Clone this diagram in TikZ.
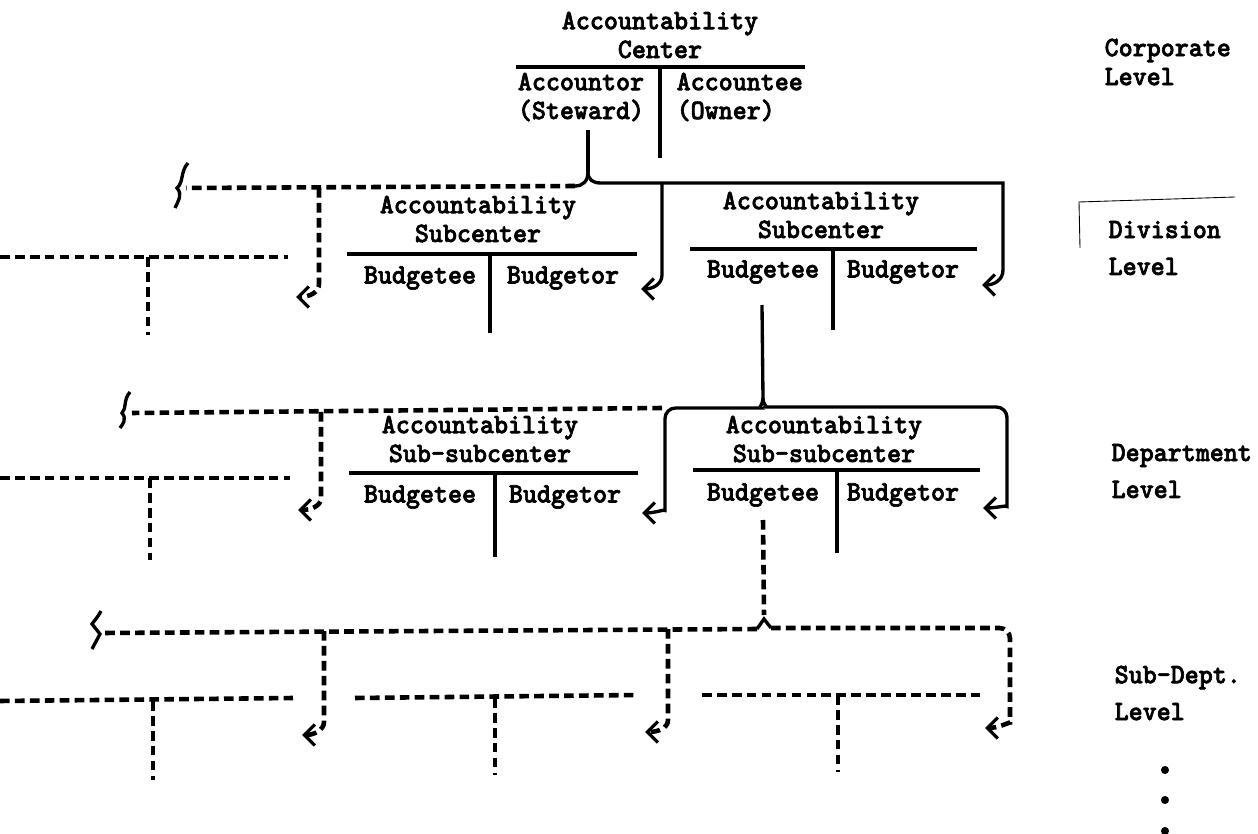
\documentclass[tikz,border=0pt]{standalone}
\usepackage{fontspec}
\newfontfamily\twfont{lmmonolt10-bold}[Extension=.otf,FakeStretch=0.95,FakeBold=2.2]
\usetikzlibrary{arrows.meta}

\begin{document}
\begin{tikzpicture}[x=0.02cm,y=-0.02cm,line width=1.9pt,
        >={Straight Barb[length=6pt,width=12pt,line width=1.9pt]},
        box node/.style={font=\twfont\fontsize{16}{16.4}\selectfont,align=center,inner sep=0pt},
        role node/.style={font=\twfont\fontsize{16}{16.4}\selectfont,inner sep=0pt},
        level node/.style={font=\twfont\fontsize{16}{21}\selectfont,align=left,anchor=west,inner sep=0pt},
        rule line/.style={line width=1.9pt},
        dash line/.style={line width=2.6pt,dash pattern=on 5.5pt off 3pt}]

      \useasboundingbox (0,0) rectangle (1258,834);

      \node[box node] (center) at (660,35) {Accountability\\Center};
      \node[box node] (steward) at (581,97) {Accountor\\(Steward)};
      \node[box node,align=left,anchor=west] (owner) at (675,97) {Accountee\\(Owner)};
      \draw[rule line] (516,67) -- (805,67);
      \draw[rule line] (660,67) -- (660,158);

      \node[box node] (sub1) at (478,219) {Accountability\\Subcenter};
      \node[role node] (sub1l) at (420,278) {Budgetee};
      \node[role node] (sub1r) at (563,278) {Budgetor};
      \draw[rule line] (347,254) -- (637,254);
      \draw[rule line] (490,254) -- (490,333);

      \node[box node] (sub2) at (821,215) {Accountability\\Subcenter};
      \node[role node] (sub2l) at (763,272) {Budgetee};
      \node[role node] (sub2r) at (903,272) {Budgetor};
      \draw[rule line] (690,249) -- (977,249);
      \draw[rule line] (833,249) -- (833,330);

      \node[box node] (dep1) at (480,439) {Accountability\\Sub-subcenter};
      \node[role node] (dep1l) at (420,497) {Budgetee};
      \node[role node] (dep1r) at (565,497) {Budgetor};
      \draw[rule line] (349,473) -- (638,473);
      \draw[rule line] (495,473) -- (495,557);

      \node[box node] (dep2) at (824,439) {Accountability\\Sub-subcenter};
      \node[role node] (dep2l) at (763,495) {Budgetee};
      \node[role node] (dep2r) at (903,495) {Budgetor};
      \draw[rule line] (693,470) -- (980,470);
      \draw[rule line] (837,470) -- (837,553);

      \node[level node,font=\twfont\fontsize{16}{16.5}\selectfont] (corp) at (1103,62) {Corporate\\Level};
      \node[level node] (div) at (1107,248) {Division\\Level};
      \node[level node] (dept) at (1110,471) {Department\\Level};
      \node[level node] (subdept) at (1113,693) {Sub-Dept.\\Level};
      \draw[line width=0.5pt] (1080,248) -- (1079,202) -- (1235,197);
      \foreach \y in {770,800,831}
        \fill (1165,\y) circle (2.3pt);

      \coordinate (j1) at (588,172);
      \coordinate (j2) at (763,398);
      \coordinate (j3) at (764,619);

      \draw (588,130) -- (j1);
      \draw[->] (j1) .. controls (588,180) and (593,183) .. (601,183) -| (1003,270)
        .. controls (1003,280) and (994,285) .. (982,285);
      \draw[->] (662,183) -- (662,275) .. controls (662,284) and (653,289) .. (641,289);
      \draw (j1) .. controls (588,181) and (583,186) .. (575,186);
      \draw[dash line] (575,186) -- (186,188);
      \draw (188,163) .. controls (180,172) and (184,182) .. (177,188)
        .. controls (183,195) and (178,201) .. (175,208);
      \draw[dash line,->] (319,188) -- (319,284) .. controls (319,292) and (310,297) .. (296,297);
      \draw[dash line] (0,257) -- (288,257);
      \draw[dash line] (148,257) -- (148,335);

      \draw (762,305) -- (j2);
      \draw[->,rounded corners=6pt] (j2) .. controls (763,405) and (758,408) .. (750,408) -- (665,408)
        -- (665,500) .. controls (665,509) and (655,513) .. (642,513);
      \draw[->,rounded corners=6pt] (j2) .. controls (763,405) and (768,407) .. (776,407) -| (1007,496)
        .. controls (1007,505) and (996,508) .. (983,508);
      \draw[dash line] (662,408) -- (132,413);
      \draw (130,392) .. controls (123,400) and (127,408) .. (122,413)
        .. controls (127,419) and (123,424) .. (120,428);
      \draw[dash line,->] (321,412) -- (321,498) .. controls (321,506) and (311,510) .. (298,510);
      \draw[dash line] (0,478) -- (290,478);
      \draw[dash line] (150,478) -- (150,560);

      \draw[dash line] (763,520) -- (764,615);
      \draw (757,629) -- (j3) -- (771,628);
      \draw[dash line,->,rounded corners=6pt] (771,628) -| (1010,712)
        .. controls (1010,722) and (998,728) .. (985,728);
      \draw[dash line] (757,629) -- (103,633);
      \draw (101,611) .. controls (98,617) and (94,621) .. (92,624) -- (100,634)
        .. controls (97,640) and (94,645) .. (92,649);
      \draw[dash line,->] (324,631) -- (324,722) .. controls (324,730) and (314,735) .. (302,735);
      \draw[dash line,->] (668,629) -- (668,720) .. controls (668,728) and (658,732) .. (645,732);
      \draw[dash line] (0,701) -- (293,698);
      \draw[dash line] (355,698) -- (638,695);
      \draw[dash line] (702,695) -- (982,695);
      \draw[dash line] (153,701) -- (153,780);
      \draw[dash line] (495,698) -- (495,775);
      \draw[dash line] (838,695) -- (838,772);
    \end{tikzpicture}
\end{document}
